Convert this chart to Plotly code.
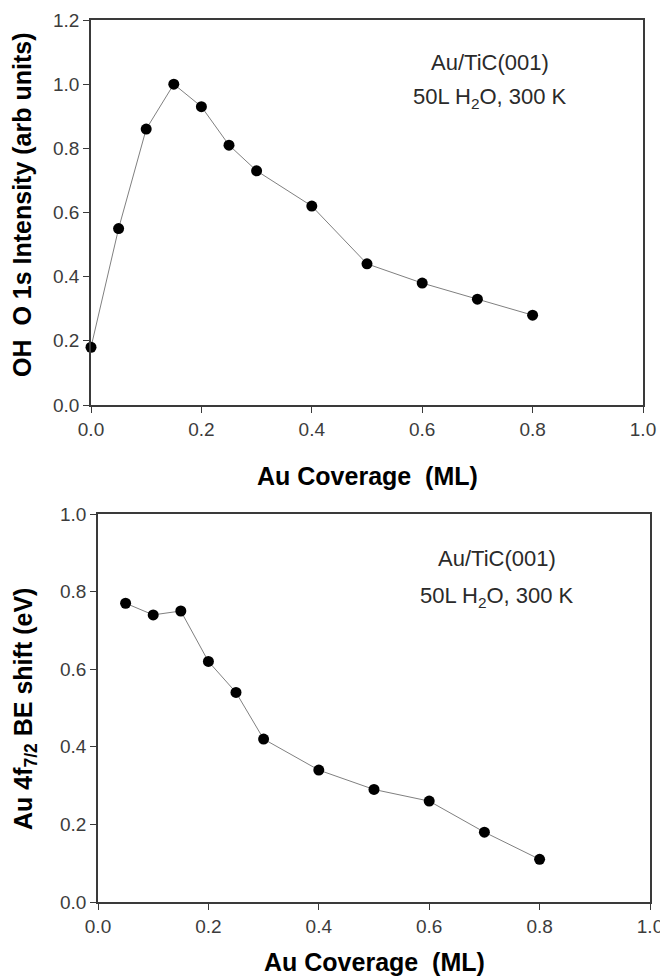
import plotly.graph_objects as go

# Top panel: OH O 1s intensity vs Au coverage
cov_top = [0.0, 0.05, 0.10, 0.15, 0.20, 0.25, 0.30, 0.40, 0.50, 0.60, 0.70, 0.80]
oh_int = [0.18, 0.55, 0.86, 1.00, 0.93, 0.81, 0.73, 0.62, 0.44, 0.38, 0.33, 0.28]

# Bottom panel: Au 4f7/2 BE shift vs Au coverage
cov_bot = [0.05, 0.10, 0.15, 0.20, 0.25, 0.30, 0.40, 0.50, 0.60, 0.70, 0.80]
be_shift = [0.77, 0.74, 0.75, 0.62, 0.54, 0.42, 0.34, 0.29, 0.26, 0.18, 0.11]

x_ticks = [0.0, 0.2, 0.4, 0.6, 0.8, 1.0]
top_yticks = [0.0, 0.2, 0.4, 0.6, 0.8, 1.0, 1.2]
bot_yticks = [0.0, 0.2, 0.4, 0.6, 0.8, 1.0]

W, H = 660, 976
FONT = "Liberation Sans, Arial, sans-serif"

fig = go.Figure()
marker = dict(color="black", size=11)
line = dict(color="#808080", width=1)
fig.add_trace(go.Scatter(x=cov_top, y=oh_int, mode="lines+markers", marker=marker, line=line,
                         xaxis="x", yaxis="y", showlegend=False, cliponaxis=False))
fig.add_trace(go.Scatter(x=cov_bot, y=be_shift, mode="lines+markers", marker=marker, line=line,
                         xaxis="x2", yaxis="y2", showlegend=False, cliponaxis=False))

def px_x(p):
    return p / W

def px_y(p):
    return 1 - p / H

axis_common = dict(showline=True, linecolor="#3a3a3a", linewidth=1.5, mirror=True,
                   ticks="outside", ticklen=6, tickwidth=1.3, tickcolor="#3a3a3a",
                   showgrid=False, zeroline=False, automargin=False,
                   ticklabeloverflow="allow",
                   tickfont=dict(family=FONT, size=19, color="#3c3c3c"))

fig.update_layout(
    width=W, height=H, margin=dict(l=0, r=0, t=0, b=0, autoexpand=False),
    paper_bgcolor="white", plot_bgcolor="white",
    xaxis=dict(domain=[px_x(91), px_x(643)], range=[0, 1.0], tickvals=x_ticks,
               ticktext=[f"{v:.1f}" for v in x_ticks], anchor="y", **axis_common),
    yaxis=dict(domain=[px_y(405), px_y(20)], range=[0, 1.2], tickvals=top_yticks,
               ticktext=[f"{v:.1f}" for v in top_yticks], anchor="x", **axis_common),
    xaxis2=dict(domain=[px_x(98), px_x(650)], range=[0, 1.0], tickvals=x_ticks,
                ticktext=[f"{v:.1f}" for v in x_ticks], anchor="y2", **axis_common),
    yaxis2=dict(domain=[px_y(902), px_y(514)], range=[0, 1.0], tickvals=bot_yticks,
                ticktext=[f"{v:.1f}" for v in bot_yticks], anchor="x2", **axis_common),
)

ann_font = dict(family=FONT, size=22, color="#2a2a2a")
title_font = dict(family=FONT, size=25, color="black")
anns = [
    dict(text="Au/TiC(001)", x=px_x(490), y=px_y(63)),
    dict(text="50L H<sub>2</sub>O, 300 K", x=px_x(490), y=px_y(98)),
    dict(text="Au/TiC(001)", x=px_x(497), y=px_y(558)),
    dict(text="50L H<sub>2</sub>O, 300 K", x=px_x(497), y=px_y(597)),
]
for a in anns:
    fig.add_annotation(xref="paper", yref="paper", showarrow=False, font=ann_font,
                       xanchor="center", yanchor="middle", **a)

titles = [
    dict(text="<b>Au Coverage  (ML)</b>", x=px_x(367), y=px_y(476), textangle=0),
    dict(text="<b>Au Coverage  (ML)</b>", x=px_x(374), y=px_y(962), textangle=0),
    dict(text="<b>OH  O 1s Intensity (arb units)</b>", x=px_x(22), y=px_y(205), textangle=-90),
    dict(text="<b>Au 4f<sub>7/2</sub> BE shift (eV)</b>", x=px_x(25), y=px_y(709), textangle=-90),
]
for t in titles:
    fig.add_annotation(xref="paper", yref="paper", showarrow=False, font=title_font,
                       xanchor="center", yanchor="middle", **t)

fig.write_html("out.html")
